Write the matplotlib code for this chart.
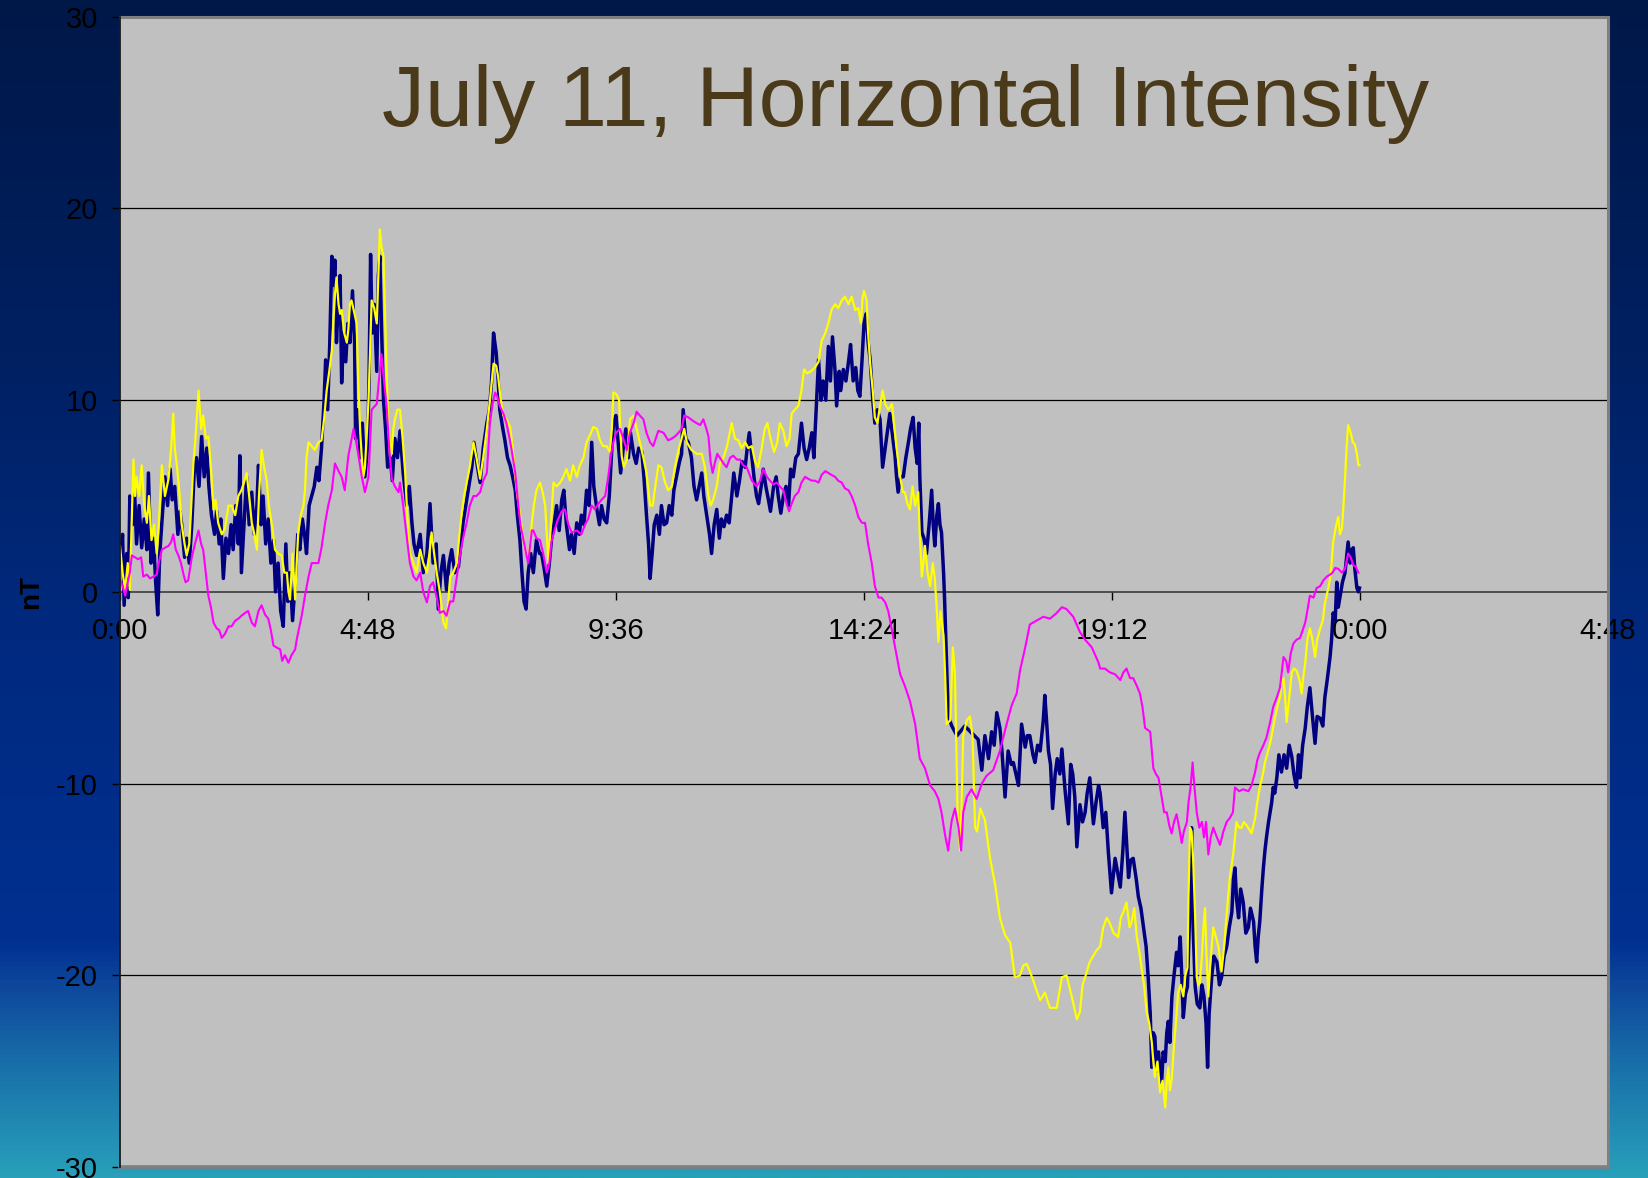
import numpy as np
import matplotlib
matplotlib.use("Agg")
import matplotlib.pyplot as plt
from matplotlib.colors import LinearSegmentedColormap
from matplotlib.lines import Line2D

plt.rcParams['font.family'] = ['Liberation Sans', 'DejaVu Sans']

# ---------------------------------------------------------------- text / axes
title = "July 11, Horizontal Intensity"
y_label = "nT"
x_ticks = [0, 4.8, 9.6, 14.4, 19.2, 24.0, 28.8]
x_tick_labels = ["0:00", "4:48", "9:36", "14:24", "19:12", "0:00", "4:48"]
y_ticks = [-30, -20, -10, 0, 10, 20, 30]

# ---------------------------------------------------------------- data (hours, nT)
t_blue = [
    0.00, 0.05, 0.08, 0.13, 0.16, 0.19, 0.24, 0.28, 0.32, 0.37, 0.42, 0.47, 0.52, 0.55, 0.60, 0.65,
    0.69, 0.73, 0.77, 0.82, 0.87, 0.92, 0.97, 1.01, 1.06, 1.12, 1.16, 1.19, 1.25, 1.29, 1.34, 1.39,
    1.44, 1.48, 1.53, 1.58, 1.63, 1.68, 1.72, 1.77, 1.83, 1.87, 1.92, 1.95, 2.00, 2.05, 2.10, 2.15,
    2.19, 2.24, 2.29, 2.32, 2.35, 2.41, 2.45, 2.50, 2.55, 2.60, 2.65, 2.68, 2.73, 2.77, 2.82, 2.87,
    2.92, 2.97, 3.01, 3.06, 3.11, 3.16, 3.21, 3.25, 3.29, 3.34, 3.39, 3.44, 3.48, 3.53, 3.58, 3.61,
    3.66, 3.71, 3.76, 3.81, 3.85, 3.90, 3.95, 3.98, 4.02, 4.06, 4.10, 4.13, 4.16, 4.19, 4.23, 4.26,
    4.29, 4.33, 4.37, 4.41, 4.45, 4.50, 4.54, 4.56, 4.60, 4.65, 4.69, 4.74, 4.79, 4.82, 4.85, 4.88,
    4.92, 4.97, 5.00, 5.03, 5.06, 5.10, 5.14, 5.18, 5.23, 5.27, 5.32, 5.37, 5.42,
    5.48, 5.55, 5.60, 5.65, 5.69, 5.74, 5.81, 5.87, 5.94, 6.00, 6.06, 6.12, 6.16, 6.21, 6.26, 6.32,
    6.37, 6.42, 6.48, 6.55, 6.64, 6.74, 6.81, 6.85, 6.92, 6.97, 7.03, 7.10, 7.15, 7.19, 7.23, 7.28,
    7.32, 7.35, 7.41, 7.45, 7.50, 7.55, 7.60, 7.65, 7.69, 7.74, 7.78, 7.82, 7.86, 7.90, 7.95, 8.00,
    8.06, 8.12, 8.16, 8.21, 8.26, 8.31, 8.35, 8.40, 8.45, 8.50, 8.55, 8.59, 8.64, 8.70, 8.74, 8.79,
    8.84, 8.89, 8.93, 8.98, 9.03, 9.08, 9.13, 9.17, 9.23, 9.28, 9.32, 9.37, 9.42, 9.47, 9.52, 9.55,
    9.60, 9.65, 9.69, 9.74, 9.79, 9.84, 9.88, 9.94, 9.99, 10.04, 10.10, 10.14, 10.19, 10.23, 10.26,
    10.30, 10.34, 10.39, 10.44, 10.48, 10.53, 10.58, 10.63, 10.68, 10.72, 10.77, 10.83, 10.87, 10.90,
    10.95, 11.00,
    11.06, 11.11, 11.16, 11.21, 11.26, 11.30, 11.35, 11.41, 11.45, 11.50, 11.55, 11.60, 11.64, 11.69,
    11.74, 11.79, 11.84, 11.88, 11.94, 11.99, 12.04, 12.10, 12.14, 12.18, 12.23, 12.27, 12.32, 12.36,
    12.41, 12.45, 12.50, 12.55, 12.59, 12.65, 12.70, 12.74, 12.79, 12.84, 12.89, 12.94, 12.98, 13.03,
    13.08, 13.13, 13.19, 13.24, 13.29, 13.34, 13.39, 13.43, 13.48, 13.52, 13.57, 13.61, 13.66, 13.71,
    13.75, 13.79, 13.84, 13.87, 13.92, 13.95, 14.00, 14.05, 14.10, 14.14, 14.19, 14.24, 14.28, 14.32,
    14.36, 14.40, 14.44, 14.48, 14.52, 14.57, 14.61, 14.66, 14.71, 14.76, 14.81, 14.86, 14.90, 14.96,
    15.00, 15.03, 15.06, 15.11, 15.16, 15.21, 15.26, 15.30, 15.35, 15.39, 15.43, 15.46, 15.48, 15.52,
    15.56, 15.61, 15.66, 15.71, 15.74, 15.77, 15.81, 15.84, 15.87, 15.90, 15.94, 15.96,
    15.99, 16.03, 16.10, 16.20, 16.35, 16.50,
    16.61, 16.68, 16.74, 16.81, 16.87, 16.92, 16.97, 17.03, 17.07, 17.13, 17.19, 17.25, 17.29, 17.34,
    17.39, 17.45, 17.52, 17.56, 17.61, 17.67, 17.71, 17.76, 17.81, 17.87, 17.90, 17.94, 17.97, 18.01,
    18.05, 18.10, 18.14, 18.19, 18.23, 18.29, 18.355, 18.40, 18.44, 18.48, 18.52, 18.58, 18.63, 18.68,
    18.72, 18.77, 18.84, 18.89, 18.94,
    18.97, 19.03, 19.08, 19.13, 19.19, 19.26, 19.30, 19.36, 19.41, 19.45, 19.52, 19.56, 19.61, 19.67,
    19.71, 19.76, 19.81, 19.86, 19.90, 19.94, 19.97, 20.00, 20.03, 20.06, 20.10, 20.13, 20.16, 20.19,
    20.23, 20.26, 20.29, 20.32, 20.36, 20.40, 20.45, 20.48, 20.52, 20.55, 20.58, 20.62, 20.66, 20.70,
    20.74, 20.77, 20.81, 20.85, 20.90, 20.94, 20.98, 21.02, 21.05, 21.08, 21.13, 21.17, 21.23, 21.28,
    21.32, 21.37, 21.42, 21.47, 21.52, 21.55, 21.58, 21.61, 21.65, 21.69, 21.74, 21.79, 21.84, 21.88,
    21.94, 21.97, 22.00, 22.03, 22.06, 22.10, 22.13, 22.16, 22.19, 22.23, 22.26, 22.29, 22.32, 22.35,
    22.39, 22.43, 22.48, 22.53, 22.58, 22.63, 22.68, 22.72, 22.77, 22.81, 22.84, 22.89, 22.94, 22.98,
    23.03, 23.08, 23.13, 23.17, 23.23, 23.28, 23.32, 23.37, 23.42, 23.45, 23.48, 23.52, 23.55, 23.58,
    23.61, 23.66, 23.71, 23.74, 23.77, 23.81, 23.84, 23.87, 23.90, 23.94, 23.97, 23.99,
]
h_blue = [
    1.5, 3.0, -0.7, 2.0, -0.3, 5.0, 3.5, 5.4, 2.5, 4.5, 2.3, 3.8, 2.2, 6.2, 1.5, 2.8,
    0.5, -1.2, 2.0, 4.0, 6.0, 4.5, 6.4, 4.8, 5.5, 3.0, 4.2, 3.6, 1.8, 2.8, 1.5, 3.5,
    6.5, 7.0, 5.5, 8.1, 6.0, 7.5, 5.5, 4.0, 3.0, 4.2, 2.5, 3.8, 0.7, 2.8, 2.0, 3.5,
    2.2, 4.5, 2.5, 7.1, 1.0, 4.0, 6.0, 3.5, 5.2, 3.0, 4.5, 6.6, 3.5, 5.0, 2.5, 3.8,
    1.5, 2.7, 0.0, 1.5, -1.0, -1.8, 2.5, -0.5, 1.0, -1.5, 0.5, 3.0, 2.2, 3.8, 2.8, 2.0,
    4.5, 5.0, 5.5, 6.5, 5.8, 7.5, 10.0, 12.1, 9.5, 13.0, 17.5, 16.0, 17.3, 13.0, 15.5, 16.5,
    10.9, 13.5, 12.0, 14.0, 13.0, 15.7, 13.0, 8.0, 9.5, 7.0, 8.8, 6.0, 7.5, 11.0, 17.6, 13.5,
    15.0, 11.5, 16.5, 17.5, 14.0, 10.0, 8.5, 6.5, 7.0, 5.8, 8.0, 7.0, 8.4,
    6.2, 4.5, 5.5, 3.6, 2.5, 1.9, 3.0, 1.0, 2.0, 4.6, 1.5, 2.5, -0.9, 1.0, 1.9, 0.1,
    1.5, 2.2, 1.0, 1.3, 3.6, 5.3, 6.5, 7.8, 6.5, 5.7, 7.5, 8.8, 9.5, 10.9, 13.5, 12.5,
    11.0, 9.5, 8.5, 7.9, 7.0, 6.6, 6.0, 5.3, 4.0, 2.7, 1.0, -0.5, -0.9, 1.0, 2.0, 1.0,
    2.7, 2.0, 2.0, 1.2, 0.3, 1.5, 2.7, 3.5, 4.5, 3.2, 4.8, 5.3, 3.5, 2.2, 3.0, 2.0,
    3.6, 3.0, 4.0, 3.5, 5.3, 4.5, 7.8, 5.5, 4.3, 3.5, 4.5, 3.8, 3.6, 5.0, 7.5, 8.8,
    9.2, 7.5, 6.2, 7.5, 8.5, 7.0, 8.3, 7.2, 6.7, 7.5, 7.3, 6.0, 4.0, 2.5, 0.7,
    2.0, 3.5, 4.0, 3.0, 4.5, 3.5, 3.6, 4.5, 4.0, 5.3, 6.0, 6.8, 7.2, 9.5,
    8.0, 7.8,
    7.0, 5.5, 4.8, 5.5, 6.2, 5.0, 4.1, 3.0, 2.0, 3.5, 4.3, 2.8, 3.8, 3.4,
    4.0, 3.6, 5.0, 6.2, 5.0, 5.8, 6.8, 6.5, 7.5, 8.3, 7.0, 6.0, 5.0, 4.6,
    5.5, 6.4, 5.5, 4.8, 4.2, 5.5, 6.0, 5.0, 4.1, 5.0, 5.5, 4.5, 6.4, 6.0,
    7.0, 7.2, 8.8, 7.5, 6.9, 7.5, 8.3, 7.0, 9.8, 12.1, 10.0, 11.0, 10.0, 12.8,
    11.0, 13.3, 11.5, 9.7, 11.5, 10.5, 11.6, 11.0, 12.0, 12.9, 11.0, 11.7, 10.5, 10.2,
    12.0, 14.0, 14.5, 13.0, 12.1, 10.0, 8.8, 9.5, 9.0, 6.5, 7.5, 8.5, 9.3, 8.0,
    7.1, 6.0, 5.2, 6.0, 6.0, 7.0, 7.8, 8.5, 9.1, 7.5, 6.7, 8.8, 6.0, 3.1,
    2.8, 2.0, 3.5, 5.3, 3.5, 2.4, 4.0, 4.6, 3.5, 3.1, 1.0, -0.4,
    -3.0, -6.5, -7.0, -7.5, -7.0, -7.4,
    -7.7, -9.3, -7.5, -8.7, -7.3, -8.0, -6.3, -7.1, -8.3, -10.7, -8.3, -9.0, -8.9, -9.5,
    -10.1, -6.9, -8.1, -7.5, -7.5, -8.5, -8.9, -8.0, -8.3, -6.7, -5.4, -7.0, -8.3, -9.0,
    -11.3, -9.5, -8.7, -9.5, -8.2, -10.3, -12.1, -9.0, -9.5, -10.7, -13.3, -11.1, -12.0, -11.5,
    -10.5, -9.7, -12.1, -11.0, -10.1,
    -10.5, -12.3, -11.5, -13.6, -15.7, -13.9, -14.5, -15.4, -13.5, -11.5, -14.9, -14.0, -13.9, -15.0,
    -15.9, -16.5, -17.5, -18.5, -20.1, -22.0, -24.8, -23.0, -23.2, -25.0, -24.0, -25.0, -25.6, -24.0,
    -24.5, -23.0, -22.4, -23.5, -21.1, -20.0, -18.8, -19.5, -18.0, -20.0, -22.2, -21.0, -20.6, -17.0,
    -12.3, -17.5, -20.6, -21.5, -21.7, -20.5, -21.1, -22.5, -24.8, -22.0, -20.1, -19.0, -19.3, -20.5,
    -20.1, -19.0, -18.5, -17.5, -16.7, -15.0, -14.4, -16.0, -17.0, -15.5, -16.2, -17.8, -17.5, -16.5,
    -17.2, -18.5, -19.3, -18.0, -17.2, -15.5, -14.4, -13.5, -12.8, -12.0, -11.5, -11.0, -10.2, -10.5,
    -9.7, -8.5, -9.4, -8.5, -9.2, -8.0, -8.6, -9.5, -10.2, -8.5, -9.7, -8.0, -7.1, -6.0,
    -5.0, -6.5, -7.9, -6.5, -6.6, -7.0, -5.5, -4.5, -3.4, -2.5, -1.1, -1.5, 0.5, -0.8,
    -0.3, 0.5, 1.0, 1.8, 2.6, 1.5, 2.2, 2.3, 1.2, 0.2, 0.0, 0.2,
]

t_yellow = [
    0.00, 0.05, 0.10, 0.15, 0.19, 0.23, 0.26, 0.29, 0.32, 0.37, 0.42, 0.47, 0.52, 0.56, 0.61, 0.66,
    0.71, 0.75, 0.81, 0.87, 0.94, 0.99, 1.03, 1.06, 1.10, 1.14, 1.19, 1.25, 1.29, 1.34, 1.37, 1.42,
    1.46, 1.52, 1.57, 1.61, 1.66, 1.71, 1.76, 1.81, 1.85, 1.90, 1.97, 2.03, 2.10, 2.16, 2.23, 2.29,
    2.35, 2.41, 2.45, 2.50, 2.55, 2.60, 2.65, 2.69, 2.74, 2.79, 2.84, 2.88, 2.94, 3.00, 3.06, 3.13,
    3.18, 3.23, 3.26, 3.29, 3.34, 3.39, 3.42, 3.45, 3.50, 3.55, 3.58, 3.61, 3.65, 3.71, 3.77, 3.84,
    3.90, 3.95, 4.00, 4.05, 4.10, 4.13, 4.16, 4.19, 4.23, 4.26, 4.29, 4.34, 4.39, 4.42, 4.45, 4.48,
    4.54, 4.58, 4.61, 4.65, 4.68, 4.71, 4.74, 4.77, 4.81, 4.84, 4.87, 4.92, 4.97, 5.00, 5.03, 5.06,
    5.10, 5.13, 5.16, 5.19, 5.23, 5.26, 5.29, 5.32, 5.37, 5.42,
    5.47, 5.52, 5.56, 5.61, 5.68, 5.74, 5.81, 5.87, 5.94, 5.99, 6.03, 6.08, 6.13, 6.19, 6.26, 6.31,
    6.355, 6.39, 6.45, 6.52, 6.57, 6.61, 6.66, 6.71, 6.77, 6.84, 6.90, 6.97, 7.03, 7.10, 7.16, 7.23,
    7.28, 7.32, 7.37, 7.42, 7.48, 7.55, 7.60, 7.65, 7.69, 7.74, 7.79, 7.84, 7.90, 7.94, 7.97, 8.01,
    8.06, 8.13, 8.18, 8.23, 8.26, 8.29, 8.34, 8.39, 8.45, 8.52, 8.58, 8.64, 8.71, 8.77, 8.84, 8.90,
    8.97, 9.03, 9.10, 9.16, 9.23, 9.29, 9.35, 9.42, 9.48, 9.52, 9.55, 9.61, 9.66, 9.71, 9.75, 9.81,
    9.87, 9.94, 10.00, 10.06, 10.13, 10.19, 10.26, 10.31, 10.35, 10.42, 10.48, 10.55, 10.61, 10.68,
    10.74, 10.81, 10.87, 10.92, 10.97, 11.06,
    11.16, 11.26, 11.32, 11.39, 11.43, 11.48, 11.55, 11.61, 11.68, 11.75, 11.84, 11.90, 11.97, 12.03,
    12.10, 12.16, 12.23, 12.29, 12.35, 12.42, 12.48, 12.53, 12.59, 12.66, 12.72, 12.77, 12.84, 12.90,
    12.96, 13.00, 13.06, 13.13, 13.19, 13.24, 13.30, 13.37, 13.45, 13.52, 13.58, 13.65, 13.71, 13.77,
    13.84, 13.90, 13.97, 14.03, 14.10, 14.16, 14.23, 14.29, 14.34, 14.37, 14.40, 14.45, 14.48, 14.52,
    14.57, 14.61, 14.66, 14.71, 14.76, 14.81, 14.87, 14.94, 14.98, 15.03, 15.10, 15.15, 15.19, 15.24,
    15.29, 15.34, 15.39, 15.45, 15.48, 15.52, 15.55, 15.58, 15.63, 15.68, 15.73, 15.77, 15.81, 15.84,
    15.88, 15.94,
    15.97, 16.00, 16.07, 16.12, 16.16, 16.21, 16.26, 16.29, 16.32, 16.39, 16.45, 16.50, 16.55, 16.59,
    16.65, 16.74, 16.84, 16.94, 17.03, 17.13, 17.23, 17.32, 17.42, 17.48, 17.55, 17.61, 17.68, 17.74,
    17.81, 17.90, 18.00, 18.13, 18.23, 18.32, 18.42, 18.52, 18.58, 18.63, 18.68, 18.77, 18.90,
    18.97, 19.03, 19.10, 19.16, 19.23, 19.32, 19.37, 19.42, 19.48, 19.54, 19.58, 19.63, 19.68, 19.73,
    19.77, 19.82, 19.87, 19.92, 19.97, 20.00, 20.03, 20.08, 20.13, 20.18, 20.23, 20.26, 20.29, 20.32,
    20.36, 20.39, 20.42, 20.45, 20.48, 20.53, 20.58, 20.62, 20.66, 20.68, 20.71, 20.74, 20.77, 20.81,
    20.84, 20.87, 20.90, 20.94, 20.97, 21.00, 21.03, 21.065, 21.10, 21.16, 21.21, 21.26, 21.32, 21.37,
    21.42, 21.48, 21.55, 21.61, 21.66, 21.71, 21.75, 21.81, 21.86, 21.90, 21.97, 22.01, 22.06, 22.12,
    22.16, 22.21, 22.26, 22.31, 22.35, 22.40, 22.45, 22.48, 22.52, 22.55, 22.58, 22.63, 22.68, 22.72,
    22.77, 22.83, 22.87, 22.90, 22.94, 22.98, 23.03, 23.08, 23.13, 23.17, 23.23, 23.28, 23.32, 23.37,
    23.42, 23.45, 23.48, 23.54, 23.58, 23.61, 23.65, 23.68, 23.71, 23.74, 23.77, 23.82, 23.86, 23.90,
    23.94, 23.97, 23.99,
]
h_yellow = [
    2.4, 1.0, 0.1, 1.5, 0.1, 4.0, 6.9, 5.0, 6.0, 5.0, 6.6, 4.5, 3.6, 5.0, 2.7, 3.5,
    2.0, 3.5, 6.6, 5.0, 5.9, 7.5, 9.3, 7.5, 6.6, 5.5, 3.6, 2.5, 1.9, 2.5, 4.0, 6.7,
    8.0, 10.5, 8.5, 9.2, 8.0, 8.1, 6.5, 4.3, 4.8, 3.6, 3.0, 3.3, 4.5, 4.5, 4.0, 5.0,
    5.3, 5.8, 6.2, 5.0, 3.6, 3.0, 2.2, 5.0, 7.4, 6.5, 5.8, 4.5, 3.5, 2.2, 2.0, 1.9,
    1.0, 1.0, 0.0, -0.4, 2.0, -0.4, 1.5, 3.1, 4.0, 4.5, 5.3, 7.0, 7.8, 7.6, 7.4, 7.8,
    7.9, 9.0, 10.5, 11.5, 12.6, 14.0, 15.5, 16.4, 15.0, 14.5, 14.7, 13.5, 13.0, 13.7, 15.0, 15.2,
    14.5, 14.0, 11.0, 8.3, 7.0, 6.0, 6.5, 7.9, 10.0, 12.5, 15.2, 14.8, 14.0, 16.5, 18.9, 18.0,
    17.5, 14.5, 11.4, 9.0, 7.5, 7.2, 8.5, 9.0, 9.5, 9.5,
    8.0, 6.2, 4.0, 2.0, 1.5, 1.0, 2.2, 1.5, 1.0, 2.0, 3.1, 2.0, 1.0, 0.0, -1.6, -1.9,
    -0.5, 0.8, 1.0, 1.5, 3.0, 4.0, 5.0, 5.7, 6.5, 7.8, 7.0, 5.9, 7.0, 8.5, 10.0, 11.9,
    11.8, 11.2, 10.0, 9.2, 9.0, 8.6, 7.5, 6.0, 5.0, 4.1, 3.0, 2.2, 1.7, 2.5, 3.6, 4.5,
    5.3, 5.7, 5.2, 4.5, 3.0, 1.5, 3.5, 5.7, 5.5, 5.7, 6.0, 6.4, 5.8, 6.6, 6.0, 6.6,
    7.0, 7.8, 8.2, 8.6, 8.5, 7.9, 7.6, 7.6, 7.3, 8.5, 10.4, 10.3, 10.0, 7.1, 6.5, 6.9,
    9.0, 9.2, 8.5, 7.8, 7.0, 6.2, 4.5, 4.5, 5.3, 6.6, 6.5, 5.7, 5.3, 5.5,
    6.5, 7.4, 8.0, 8.5, 7.8, 7.4,
    7.2, 7.2, 6.5, 5.0, 4.5, 4.8, 5.5, 6.7, 7.0, 7.6, 8.8, 8.0, 7.9, 7.5,
    7.8, 7.5, 7.6, 6.8, 6.5, 7.5, 8.5, 8.8, 8.0, 7.3, 7.8, 8.8, 8.4, 7.6,
    8.0, 9.3, 9.5, 9.7, 10.5, 11.6, 11.4, 11.5, 11.7, 12.0, 13.1, 13.5, 14.0, 14.7,
    15.0, 14.8, 15.2, 15.4, 15.0, 15.4, 14.7, 14.8, 14.0, 15.3, 15.7, 15.2, 13.5, 11.9,
    10.5, 9.1, 8.8, 9.7, 10.5, 9.8, 9.5, 9.8, 8.8, 7.5, 6.0, 5.2, 5.2, 4.6,
    4.3, 5.5, 4.5, 5.2, 3.0, 0.8, 1.5, 2.4, 1.0, 0.3, 1.5, 0.7, -1.0, -2.6,
    -1.0, -2.3,
    -4.3, -6.9, -6.7, -2.9, -4.3, -11.3, -13.5, -11.0, -7.5, -6.7, -6.5, -7.5, -12.3, -12.5,
    -11.3, -11.9, -13.9, -15.3, -17.0, -17.9, -18.3, -20.1, -20.0, -19.5, -19.4, -19.8, -20.3, -20.8,
    -21.3, -20.9, -21.7, -21.7, -20.1, -20.0, -21.1, -22.3, -21.9, -20.5, -20.1, -19.3, -18.7,
    -18.5, -17.5, -17.0, -17.3, -17.8, -18.0, -17.0, -16.7, -16.2, -17.5, -17.2, -16.5, -18.0, -18.8,
    -19.6, -20.5, -21.9, -22.5, -23.5, -24.5, -25.3, -24.5, -26.1, -25.5, -26.9, -25.5, -24.8, -26.0,
    -25.3, -24.0, -23.0, -22.0, -20.9, -20.5, -21.1, -20.0, -19.6, -16.0, -12.3, -12.5, -13.9, -17.0,
    -20.1, -20.5, -20.4, -19.0, -17.5, -16.5, -19.0, -21.1, -19.5, -17.5, -18.0, -18.5, -19.8, -18.5,
    -16.8, -14.9, -13.6, -12.0, -12.3, -12.3, -12.0, -12.2, -12.4, -12.6, -11.8, -11.0, -10.2, -9.5,
    -8.9, -8.4, -7.9, -7.2, -6.6, -6.0, -5.5, -4.8, -4.5, -5.5, -6.8, -5.5, -4.2, -4.0,
    -4.1, -4.6, -5.3, -4.5, -3.7, -2.5, -1.9, -2.5, -3.4, -2.5, -1.9, -1.5, -0.6, 0.0,
    0.7, 1.5, 2.6, 3.5, 3.9, 3.0, 3.3, 4.5, 5.9, 7.5, 8.7, 8.3, 7.8, 7.7,
    7.2, 6.6, 6.6,
]

t_magenta = [
    0.00, 0.05, 0.10, 0.15, 0.19, 0.23, 0.29, 0.35, 0.41, 0.45, 0.52, 0.58, 0.65, 0.71, 0.75, 0.81,
    0.87, 0.94, 0.99, 1.03, 1.08, 1.13, 1.18, 1.23, 1.27, 1.32, 1.39, 1.45, 1.52, 1.57, 1.61, 1.66,
    1.71, 1.76, 1.81, 1.87, 1.92, 1.97, 2.03, 2.10, 2.16, 2.23, 2.29, 2.35, 2.42, 2.48, 2.55, 2.61,
    2.68, 2.74, 2.81, 2.87, 2.92, 2.97, 3.03, 3.10, 3.14, 3.19, 3.26, 3.32, 3.39, 3.42, 3.45, 3.52,
    3.58, 3.65, 3.71, 3.77, 3.84, 3.90, 3.97, 4.03, 4.10, 4.16, 4.23, 4.29, 4.35, 4.42, 4.47, 4.52,
    4.56, 4.61, 4.68, 4.74, 4.81, 4.87, 4.97, 5.01, 5.06, 5.11, 5.16, 5.21, 5.26, 5.32, 5.39,
    5.42, 5.48, 5.55, 5.61, 5.68, 5.74, 5.81, 5.87, 5.94, 6.00, 6.06, 6.13, 6.19, 6.26, 6.32, 6.39,
    6.45, 6.52, 6.58, 6.64, 6.71, 6.77, 6.84, 6.90, 6.97, 7.03, 7.10, 7.16, 7.21, 7.26, 7.30, 7.35,
    7.42, 7.48, 7.54, 7.58, 7.65, 7.71, 7.75, 7.81, 7.86, 7.90, 7.97, 8.00, 8.06, 8.13, 8.19, 8.26,
    8.31, 8.35, 8.42, 8.48, 8.55, 8.61, 8.68, 8.74, 8.84, 8.93, 9.00, 9.06, 9.13, 9.19, 9.26, 9.32,
    9.39, 9.45, 9.50, 9.55, 9.60, 9.68, 9.74, 9.81, 9.87, 9.94, 10.00, 10.06, 10.13, 10.19, 10.26,
    10.32, 10.42, 10.52, 10.61, 10.68, 10.74, 10.81, 10.87, 10.92, 11.00,
    11.10, 11.16, 11.23, 11.29, 11.35, 11.39, 11.43, 11.47, 11.52, 11.56, 11.61, 11.68, 11.74, 11.81,
    11.87, 11.94, 12.00, 12.06, 12.13, 12.23, 12.32, 12.39, 12.45, 12.52, 12.58, 12.65, 12.71, 12.77,
    12.84, 12.90, 12.95, 13.00, 13.06, 13.13, 13.19, 13.26, 13.32, 13.39, 13.45, 13.52, 13.58, 13.65,
    13.71, 13.77, 13.84, 13.90, 13.97, 14.03, 14.10, 14.16, 14.23, 14.29, 14.36, 14.42, 14.48, 14.55,
    14.61, 14.68, 14.74, 14.81, 14.87, 14.94,
    15.10, 15.19, 15.29, 15.39, 15.48, 15.58, 15.68, 15.77, 15.84, 15.90, 15.97, 16.03, 16.07, 16.10,
    16.16, 16.23, 16.28, 16.32, 16.39, 16.48, 16.58, 16.68, 16.77, 16.90, 17.03, 17.16, 17.26, 17.355,
    17.42, 17.52, 17.61, 17.74, 17.87, 18.00, 18.13, 18.23, 18.32, 18.45, 18.58, 18.68, 18.81, 18.94,
    18.97, 19.06, 19.16, 19.26, 19.36, 19.42, 19.48, 19.55, 19.61, 19.68, 19.74, 19.79, 19.84, 19.94,
    20.00, 20.05, 20.10, 20.16, 20.21, 20.26, 20.31, 20.355, 20.40, 20.45, 20.50, 20.55, 20.59, 20.65,
    20.68, 20.72, 20.76, 20.79, 20.84, 20.89, 20.94, 20.98, 21.02, 21.065, 21.11, 21.16, 21.23, 21.29,
    21.355, 21.42, 21.48, 21.54, 21.58, 21.66, 21.74, 21.84, 21.90, 21.97, 22.01, 22.06, 22.13, 22.19,
    22.26, 22.32, 22.39, 22.45, 22.52, 22.57, 22.61, 22.66, 22.71, 22.77, 22.84, 22.89, 22.94, 22.98,
    23.03, 23.10, 23.16, 23.23, 23.29, 23.36, 23.42, 23.47, 23.52, 23.58, 23.65, 23.71, 23.77, 23.82,
    23.87, 23.92, 23.97,
]
h_magenta = [
    0.66, 0.3, -0.2, 0.5, 1.0, 1.9, 1.8, 1.7, 1.8, 0.8, 0.9, 0.7, 0.8, 0.9, 1.5, 2.2,
    2.3, 2.4, 2.6, 3.0, 2.2, 1.9, 1.5, 0.9, 0.5, 0.6, 1.8, 2.5, 3.2, 2.5, 2.2, 1.0,
    -0.2, -0.8, -1.6, -1.9, -2.0, -2.4, -2.2, -1.8, -1.8, -1.5, -1.4, -1.25, -1.1, -1.0, -1.6, -1.8,
    -1.0, -0.7, -1.2, -1.4, -2.0, -2.8, -2.9, -3.0, -3.6, -3.3, -3.7, -3.3, -3.0, -2.5, -2.1, -1.2,
    -0.2, 0.8, 1.5, 1.5, 1.5, 2.3, 3.6, 4.5, 5.3, 6.7, 6.3, 6.0, 5.3, 7.1, 7.8, 8.5,
    8.0, 7.2, 6.0, 5.2, 6.0, 9.5, 9.8, 11.0, 12.4, 11.0, 9.7, 7.5, 5.9, 5.5, 5.2,
    5.7, 4.5, 2.9, 1.5, 0.8, 0.6, 1.0, 0.0, -0.55, 0.3, 0.5, -0.3, -1.1, -1.0, -1.25, -0.5,
    -0.5, 0.8, 1.9, 2.8, 3.6, 4.5, 5.0, 5.0, 5.2, 5.8, 6.2, 8.8, 9.8, 10.4, 10.2, 9.7,
    9.3, 8.8, 8.0, 7.4, 6.2, 4.5, 3.5, 2.7, 2.0, 1.5, 3.2, 3.2, 2.8, 2.7, 2.0, 1.0,
    1.5, 2.6, 3.3, 3.8, 4.2, 4.3, 3.5, 3.1, 3.2, 3.0, 3.5, 3.8, 4.5, 4.3, 4.6, 4.8,
    5.0, 6.0, 7.1, 7.8, 8.3, 8.5, 8.0, 7.4, 8.3, 8.8, 9.4, 9.2, 9.0, 8.3, 7.8,
    7.6, 8.4, 8.3, 7.9, 8.0, 8.1, 8.3, 8.5, 9.2, 9.1,
    8.9, 8.8, 8.7, 9.0, 8.5, 8.1, 6.8, 6.2, 6.8, 7.2, 7.0, 6.7, 6.5, 7.0,
    7.1, 6.9, 6.9, 6.6, 6.5, 5.8, 5.5, 5.8, 6.4, 6.0, 5.8, 5.6, 5.7, 5.5,
    5.3, 4.6, 4.2, 4.6, 5.0, 5.2, 5.7, 6.0, 5.9, 5.8, 5.8, 5.7, 6.1, 6.3,
    6.2, 6.1, 6.0, 5.8, 5.7, 5.4, 5.3, 5.0, 4.5, 3.9, 3.6, 3.6, 2.5, 1.5,
    0.3, -0.3, -0.3, -0.55, -1.0, -2.0,
    -4.3, -4.9, -5.7, -6.9, -8.7, -9.2, -10.1, -10.4, -10.8, -11.5, -12.7, -13.5, -12.5, -11.9,
    -11.3, -12.3, -13.5, -11.5, -10.7, -10.3, -10.8, -10.0, -9.6, -9.3, -8.3, -6.9, -5.9, -5.3,
    -4.1, -2.9, -1.7, -1.5, -1.3, -1.4, -1.1, -0.8, -0.9, -1.3, -2.1, -2.5, -2.9, -3.7,
    -4.0, -4.0, -4.2, -4.3, -4.6, -4.2, -4.0, -4.5, -4.5, -4.9, -5.3, -6.0, -7.1, -7.3,
    -9.2, -9.5, -9.7, -10.7, -11.5, -11.5, -12.2, -12.6, -12.0, -11.6, -12.3, -13.1, -12.5, -12.0,
    -11.0, -10.2, -8.9, -10.0, -11.5, -12.3, -12.0, -12.8, -12.0, -13.7, -12.8, -12.3, -12.8, -13.2,
    -12.5, -12.0, -11.8, -11.5, -10.2, -10.4, -10.3, -10.4, -10.1, -9.4, -8.8, -8.4, -8.0, -7.6,
    -6.8, -6.0, -5.5, -5.0, -3.4, -3.6, -4.2, -3.2, -2.7, -2.5, -2.4, -2.0, -1.6, -1.0,
    -0.2, -0.3, 0.2, 0.3, 0.6, 0.8, 0.9, 1.0, 1.25, 1.2, 1.0, 1.2, 2.0, 1.8,
    1.4, 1.3, 1.0,
]

# ---------------------------------------------------------------- figure
W, H = 1648, 1178
fig = plt.figure(figsize=(W / 100, H / 100), dpi=100)

# slide-style vertical gradient behind everything
bg = fig.add_axes([0, 0, 1, 1], zorder=-10)
stops = [
    (0.00, (0, 24, 72)),
    (0.30, (0, 32, 98)),
    (0.55, (0, 42, 128)),
    (0.80, (0, 48, 145)),
    (0.84, (14, 72, 156)),
    (0.90, (24, 108, 168)),
    (1.00, (40, 160, 186)),
]
cmap = LinearSegmentedColormap.from_list(
    "slide", [(p, tuple(c / 255 for c in col)) for p, col in stops])
grad = np.linspace(0, 1, 1024).reshape(-1, 1)
bg.imshow(grad, aspect="auto", cmap=cmap, extent=[0, 1, 0, 1], origin="upper")
bg.set_axis_off()

left, right = 120 / W, 1608 / W
bottom, top = 1 - 1167 / H, 1 - 16.7 / H
ax = fig.add_axes([left, bottom, right - left, top - bottom])
ax.set_facecolor("#C0C0C0")
ax.set_xlim(0, 28.8)
ax.set_ylim(-30, 30)

for y in (-20, -10, 10, 20):
    ax.axhline(y, color="black", lw=0.9, zorder=1)

ax.plot(t_blue, h_blue, color="#000080", lw=2.5, zorder=3)
ax.plot(t_yellow, h_yellow, color="#FFFF00", lw=1.6, zorder=4)
ax.plot(t_magenta, h_magenta, color="#FF00FF", lw=1.5, zorder=5)

# frame: grey plot-area border, dark left axis, zero line carrying the time ticks
for side in ("top", "right"):
    ax.spines[side].set_color("#7F7F7F")
    ax.spines[side].set_linewidth(2.2)
ax.spines["left"].set_color("#1A1A1A")
ax.spines["left"].set_linewidth(1.3)
ax.spines["left"].set_zorder(6)
ax.spines["bottom"].set_position(("data", 0))
ax.spines["bottom"].set_color("#303030")
ax.spines["bottom"].set_linewidth(1.1)
ax.spines["bottom"].set_zorder(2)
ax.add_line(Line2D([0, 1], [0, 0], transform=ax.transAxes, color="#7F7F7F",
                   lw=2.6, clip_on=False, zorder=6))

ax.set_xticks(x_ticks)
ax.set_xticklabels(x_tick_labels)
ax.set_yticks(y_ticks)
ax.set_yticklabels([str(v) for v in y_ticks])
ax.tick_params(axis="x", direction="out", length=6, width=1, pad=12,
               labelsize=21, colors="black")
ax.tick_params(axis="y", direction="out", length=6, width=1, pad=10,
               labelsize=21, colors="black")

fig.text(31 / W, 1 - 592 / H, y_label, rotation=90, ha="center", va="center",
         fontsize=20, fontweight="bold", color="black")
fig.text(906 / W, 1 - 126 / H, title, ha="center", va="baseline",
         fontsize=62, color="#4B3A1A")

fig.savefig("out.png", dpi=100)
